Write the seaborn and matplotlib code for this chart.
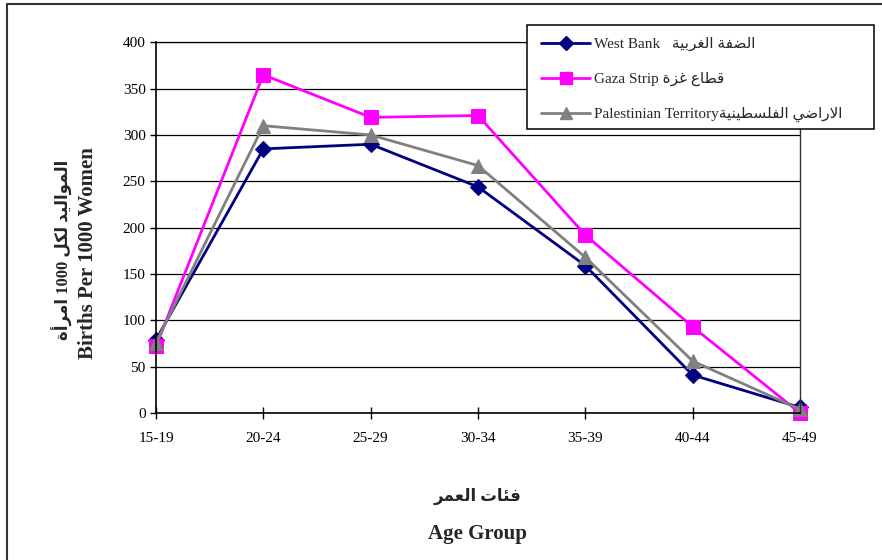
import matplotlib
matplotlib.use("Agg")
import matplotlib.pyplot as plt
import seaborn as sns
import pandas as pd
from matplotlib.lines import Line2D
from matplotlib.patches import Rectangle

# ---------------- data ----------------
age_groups = ["15-19", "20-24", "25-29", "30-34", "35-39", "40-44", "45-49"]
west_bank = [79, 285, 290, 244, 159, 41, 6]
gaza_strip = [72, 365, 319, 321, 192, 93, 0]
palestinian_territory = [76, 310, 300, 267, 168, 56, 4]
series_names = ["West Bank", "Gaza Strip", "Palestinian Territory"]
series_ar = ["الضفة الغربية", "قطاع غزة", "الاراضي الفلسطينية"]
y_ticks = [0, 50, 100, 150, 200, 250, 300, 350, 400]
ylabel_en = "Births Per 1000 Women"
ylabel_ar = "المواليد لكل 1000 امرأة"
xlabel_en = "Age Group"
xlabel_ar = "فئات العمر"

# ---------------- minimal Arabic shaping (visual order) ----------------
FORMS = {  # isolated, final, initial, medial
    'ا': ('\uFE8D', '\uFE8E', None, None),
    'أ': ('\uFE83', '\uFE84', None, None),
    'ب': ('\uFE8F', '\uFE90', '\uFE91', '\uFE92'),
    'ة': ('\uFE93', '\uFE94', None, None),
    'ت': ('\uFE95', '\uFE96', '\uFE97', '\uFE98'),
    'ئ': ('\uFE89', '\uFE8A', '\uFE8B', '\uFE8C'),
    'د': ('\uFEA9', '\uFEAA', None, None),
    'ر': ('\uFEAD', '\uFEAE', None, None),
    'ز': ('\uFEAF', '\uFEB0', None, None),
    'س': ('\uFEB1', '\uFEB2', '\uFEB3', '\uFEB4'),
    'ض': ('\uFEBD', '\uFEBE', '\uFEBF', '\uFEC0'),
    'ط': ('\uFEC1', '\uFEC2', '\uFEC3', '\uFEC4'),
    'ع': ('\uFEC9', '\uFECA', '\uFECB', '\uFECC'),
    'غ': ('\uFECD', '\uFECE', '\uFECF', '\uFED0'),
    'ف': ('\uFED1', '\uFED2', '\uFED3', '\uFED4'),
    'ق': ('\uFED5', '\uFED6', '\uFED7', '\uFED8'),
    'ك': ('\uFED9', '\uFEDA', '\uFEDB', '\uFEDC'),
    'ل': ('\uFEDD', '\uFEDE', '\uFEDF', '\uFEE0'),
    'م': ('\uFEE1', '\uFEE2', '\uFEE3', '\uFEE4'),
    'ن': ('\uFEE5', '\uFEE6', '\uFEE7', '\uFEE8'),
    'و': ('\uFEED', '\uFEEE', None, None),
    'ي': ('\uFEF1', '\uFEF2', '\uFEF3', '\uFEF4'),
}
LAMALEF = {'ا': ('\uFEFB', '\uFEFC', None, None), 'أ': ('\uFEF7', '\uFEF8', None, None)}


def shape_word(word):
    units = []
    i = 0
    while i < len(word):
        c = word[i]
        if c == 'ل' and i + 1 < len(word) and word[i + 1] in LAMALEF:
            units.append(LAMALEF[word[i + 1]])
            i += 2
            continue
        units.append(FORMS.get(c, (c, c, None, None)))
        i += 1
    out = []
    n = len(units)
    for k, u in enumerate(units):
        prev_j = k > 0 and units[k - 1][2] is not None
        next_j = k < n - 1 and u[2] is not None
        if prev_j and next_j:
            out.append(u[3])
        elif prev_j:
            out.append(u[1])
        elif next_j:
            out.append(u[2])
        else:
            out.append(u[0])
    return ''.join(out)


def visual(text):
    words = text.split(' ')
    res = []
    for w in words:
        if any(ch in FORMS for ch in w):
            res.append(shape_word(w)[::-1])
        else:
            res.append(w)
    return ' '.join(res[::-1])


# ---------------- plot ----------------
sns.set_style("white")
FAM = ['Liberation Serif', 'DejaVu Sans']
plt.rcParams['font.family'] = FAM

df = pd.DataFrame({
    "age": age_groups * 3,
    "rate": west_bank + gaza_strip + palestinian_territory,
    "series": [s for s in series_names for _ in age_groups],
})

colors = {"West Bank": "#000080", "Gaza Strip": "#FF00FF", "Palestinian Territory": "#808080"}
markers = {"West Bank": "D", "Gaza Strip": "s", "Palestinian Territory": "^"}
msizes = {"West Bank": 8.5, "Gaza Strip": 9.5, "Palestinian Territory": 10}

fig = plt.figure(figsize=(8.82, 5.6), dpi=100)
ax = fig.add_axes([156 / 882, 1 - 413 / 560, (800 - 156) / 882, (413 - 42.3) / 560])

sns.lineplot(data=df, x="age", y="rate", hue="series", style="series",
             palette=colors, markers=markers, dashes=False, sort=False,
             linewidth=2, ax=ax, legend=False)

for line, name in zip(ax.lines, series_names):
    line.set_markeredgecolor(colors[name])
    line.set_markerfacecolor(colors[name])
    line.set_markersize(msizes[name])
    line.set_clip_on(False)

ax.set_xlim(0, len(age_groups) - 1)
ax.set_ylim(0, 400)
ax.set_yticks(y_ticks)
ax.set_xticks(range(len(age_groups)))
ax.set_xticklabels(age_groups)
ax.set_xlabel("")
ax.set_ylabel("")
ax.yaxis.grid(True, color="black", linewidth=0.9)
ax.set_axisbelow(True)
for side in ["left", "bottom"]:
    ax.spines[side].set_color("black")
    ax.spines[side].set_linewidth(1.2)
ax.spines["top"].set_color("black")
ax.spines["top"].set_linewidth(0.9)
ax.spines["right"].set_color("#303030")
ax.spines["right"].set_linewidth(1.0)
ax.tick_params(axis="x", direction="inout", length=8, width=1, pad=10,
               labelsize=11, colors="black", bottom=True)
ax.tick_params(axis="y", direction="out", length=4.5, width=1, pad=3,
               labelsize=11, colors="black", left=True)
for lab in ax.get_xticklabels() + ax.get_yticklabels():
    lab.set_family(FAM)

# legend
handles = [Line2D([], [], color=colors[n], marker=markers[n], markersize=msizes[n] * 0.85,
                  markeredgecolor=colors[n], linewidth=2) for n in series_names]
labels = [
    series_names[0] + "   " + visual(series_ar[0]),
    series_names[1] + " " + visual(series_ar[1]),
    series_names[2] + visual(series_ar[2]),
]
leg = fig.legend(handles, labels, loc="upper left",
                 bbox_to_anchor=(529 / 882, 1 - 25 / 560), frameon=False,
                 prop={"family": FAM, "size": 11}, handlelength=3.2,
                 handletextpad=0.25, labelspacing=1.35, borderpad=0.3)
box = Rectangle((527 / 882, 1 - 129 / 560), (874 - 527) / 882, (129 - 25) / 560,
                transform=fig.transFigure, facecolor="white", edgecolor="black",
                linewidth=1.1, zorder=2)
fig.patches.append(box)
leg.set_zorder(3)

# axis titles
fig.text(62 / 882, 1 - 250 / 560, visual(ylabel_ar), rotation=90, ha="center", va="center",
         fontsize=12, fontweight="bold", family=FAM)
fig.text(88 / 882, 1 - 253 / 560, ylabel_en, rotation=90, ha="center", va="center",
         fontsize=15, fontweight="bold", family=FAM)
fig.text(478 / 882, 1 - 496 / 560, visual(xlabel_ar), ha="center", va="center",
         fontsize=12, fontweight="bold", family=FAM)
fig.text(477 / 882, 1 - 534 / 560, xlabel_en, ha="center", va="center",
         fontsize=15, fontweight="bold", family=FAM)

# chart-area frame
fig.add_artist(Line2D([7 / 882, 7 / 882], [0, 1 - 4 / 560], transform=fig.transFigure,
                      color="#333333", linewidth=1.5))
fig.add_artist(Line2D([7 / 882, 1], [1 - 4 / 560, 1 - 4 / 560], transform=fig.transFigure,
                      color="#333333", linewidth=1.5))

fig.savefig("out.png", dpi=100)
